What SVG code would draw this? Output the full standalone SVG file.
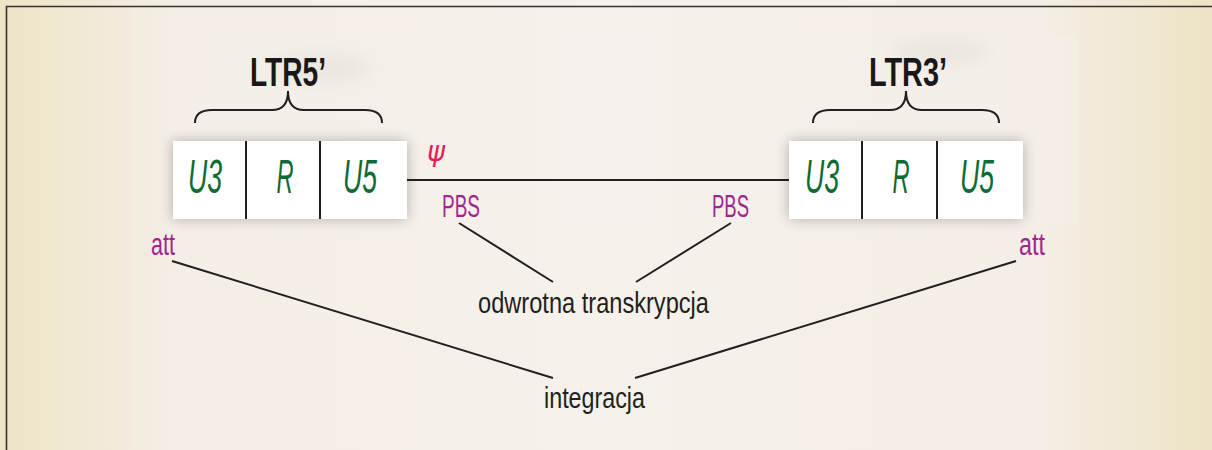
<svg xmlns="http://www.w3.org/2000/svg" width="1212" height="450" viewBox="0 0 1212 450">
  <defs>
    <linearGradient id="bg" x1="0" y1="0" x2="1212" y2="0" gradientUnits="userSpaceOnUse">
      <stop offset="0" stop-color="#EEE4C6"/>
      <stop offset="0.14" stop-color="#F4EEE5"/>
      <stop offset="0.5" stop-color="#F6F1EB"/>
      <stop offset="0.86" stop-color="#F4EEE5"/>
      <stop offset="1" stop-color="#EEE3C5"/>
    </linearGradient>
    <filter id="shadow" x="-20%" y="-40%" width="140%" height="180%">
      <feGaussianBlur in="SourceAlpha" stdDeviation="7"/>
      <feOffset dx="0" dy="0"/>
      <feComponentTransfer><feFuncA type="linear" slope="0.28"/></feComponentTransfer>
      <feMerge><feMergeNode/><feMergeNode in="SourceGraphic"/></feMerge>
    </filter>
    <filter id="blur" x="-50%" y="-50%" width="200%" height="200%">
      <feGaussianBlur stdDeviation="8"/>
    </filter>
  </defs>
  <style>
    .seg { font-family: "Liberation Sans", Arial, sans-serif; font-style: italic; font-size: 49px; fill: #0E6B36; text-anchor: middle; }
    .ltr { font-family: "Liberation Sans", Arial, sans-serif; font-weight: bold; font-size: 41px; fill: #1A1718; text-anchor: middle; }
    .pur { font-family: "Liberation Sans", Arial, sans-serif; font-size: 31px; fill: #A0268E; }
    .lbl { font-family: "Liberation Sans", Arial, sans-serif; font-size: 30px; fill: #231F20; }
    .psi { font-family: "DejaVu Sans", sans-serif; font-style: italic; font-size: 28px; fill: #E61E58; }
    .box { fill: #FFFFFF; }
    .div { stroke: #231F20; stroke-width: 2; }
    .ln { stroke: #231F20; stroke-width: 2; fill: none; }
    .brace { stroke: #231F20; stroke-width: 2; fill: none; }
  </style>

  <rect x="0" y="0" width="1212" height="450" fill="url(#bg)"/>
  <rect x="177" y="36" width="901" height="190" fill="#F5F2EE" opacity="0.35"/>
  <ellipse cx="320" cy="68" rx="50" ry="14" fill="#D8D4CE" opacity="0.35" filter="url(#blur)"/>
  <ellipse cx="940" cy="52" rx="50" ry="12" fill="#D8D4CE" opacity="0.35" filter="url(#blur)"/>
  <path d="M6.5 450 V6.5 H1212" fill="none" stroke="#333" stroke-width="1.6"/>

  <g id="ltr5">
    <rect class="box" x="173" y="141" width="234" height="78" filter="url(#shadow)"/>
    <line class="div" x1="246" y1="141" x2="246" y2="219"/>
    <line class="div" x1="320" y1="141" x2="320" y2="219"/>
    <text class="seg" x="205" y="193" textLength="34" lengthAdjust="spacingAndGlyphs">U3</text>
    <text class="seg" x="285" y="193" textLength="17" lengthAdjust="spacingAndGlyphs">R</text>
    <text class="seg" x="360" y="193" textLength="34" lengthAdjust="spacingAndGlyphs">U5</text>
  </g>

  <g id="ltr3">
    <rect class="box" x="789" y="141" width="234" height="78" filter="url(#shadow)"/>
    <line class="div" x1="862" y1="141" x2="862" y2="219"/>
    <line class="div" x1="937" y1="141" x2="937" y2="219"/>
    <text class="seg" x="822" y="193" textLength="34" lengthAdjust="spacingAndGlyphs">U3</text>
    <text class="seg" x="901" y="193" textLength="17" lengthAdjust="spacingAndGlyphs">R</text>
    <text class="seg" x="977" y="193" textLength="34" lengthAdjust="spacingAndGlyphs">U5</text>
  </g>

  <g id="label-ltr5">
    <text class="ltr" x="288" y="86" textLength="76" lengthAdjust="spacingAndGlyphs">LTR5’</text>
    <path class="brace" d="M195,123 Q195,110 212,110 L272,110 Q288,110 288,91 Q288,110 304,110 L365,110 Q382,110 382,123"/>
  </g>

  <g id="label-ltr3">
    <text class="ltr" x="908" y="86" textLength="78" lengthAdjust="spacingAndGlyphs">LTR3’</text>
    <path class="brace" d="M813,123 Q813,110 830,110 L890,110 Q906,110 906,91 Q906,110 922,110 L982,110 Q999,110 999,123"/>
  </g>

  <g id="psi">
    <text class="psi" x="427" y="161" textLength="18" lengthAdjust="spacingAndGlyphs">ψ</text>
  </g>
  <g id="pbs-left">
    <text class="pur" x="442" y="217" textLength="38" lengthAdjust="spacingAndGlyphs">PBS</text>
  </g>
  <g id="pbs-right">
    <text class="pur" x="712" y="217" textLength="37" lengthAdjust="spacingAndGlyphs">PBS</text>
  </g>
  <g id="att-left">
    <text class="pur" x="151" y="255" textLength="24" lengthAdjust="spacingAndGlyphs">att</text>
  </g>
  <g id="att-right">
    <text class="pur" x="1019" y="255" textLength="26" lengthAdjust="spacingAndGlyphs">att</text>
  </g>
  <g id="rt">
    <text class="lbl" x="478" y="313" textLength="231" lengthAdjust="spacingAndGlyphs">odwrotna transkrypcja</text>
  </g>
  <g id="integ">
    <text class="lbl" x="544" y="408" textLength="101" lengthAdjust="spacingAndGlyphs">integracja</text>
  </g>

  <g id="connectors">
    <line class="ln" x1="407" y1="180" x2="789" y2="180"/>
    <line class="ln" x1="459" y1="223" x2="553" y2="282"/>
    <line class="ln" x1="731" y1="223" x2="636" y2="282"/>
    <line class="ln" x1="172" y1="261" x2="553" y2="378"/>
    <line class="ln" x1="1016" y1="261" x2="635" y2="378"/>
  </g>
</svg>
